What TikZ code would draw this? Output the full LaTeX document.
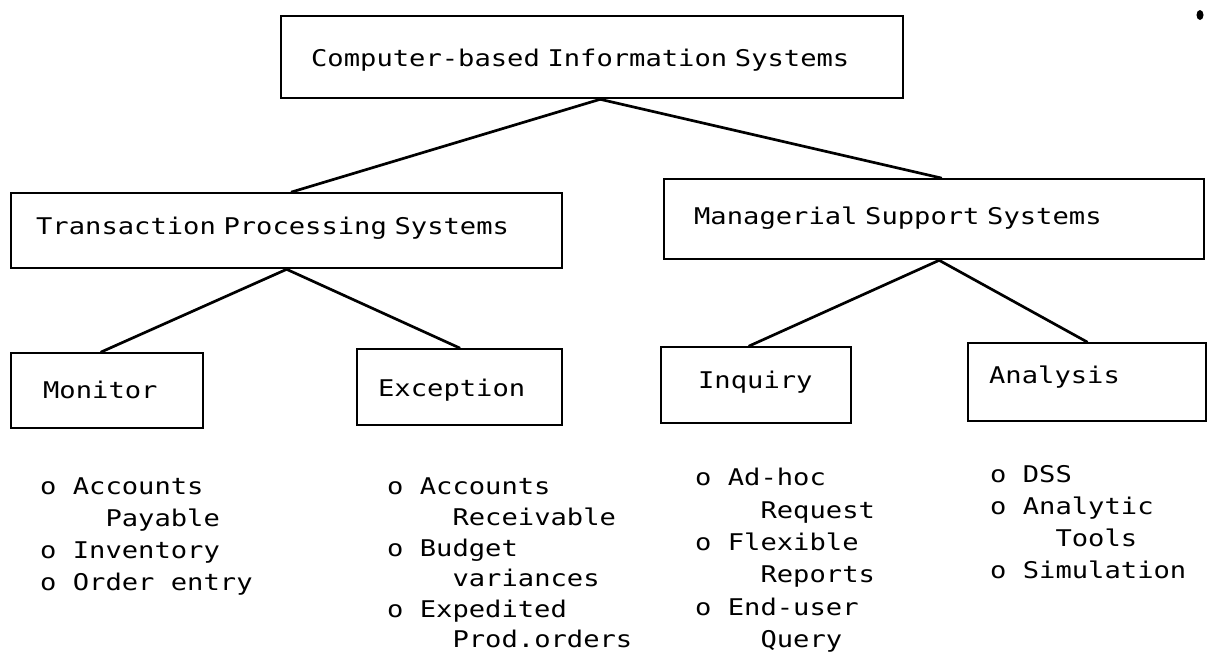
\documentclass[tikz,border=0pt]{standalone}
\usepackage{fontspec}
\newfontfamily\typewriter[FakeStretch=1.18]{DejaVu Sans Mono}
% typewriter face at 23pt with the given line pitch; a space is one full character cell
\newcommand\twfont[1]{\typewriter\fontsize{23}{#1}\selectfont
  \fontdimen2\font=\fontcharwd\font`x\relax
  \fontdimen3\font=0pt\relax\fontdimen4\font=0pt\relax}
% indentation of a continued list entry: four character cells
\newcommand\ind{\phantom{xxxx}}
\tikzset{
  sysbox/.style={draw, line width=2.3pt, anchor=north west, inner ysep=0pt,
    align=left, font=\twfont{32}},
  itemlist/.style={inner sep=0pt, anchor=north west, align=left},
  link/.style={line width=2.7pt, line cap=round},
}
\begin{document}
\begin{tikzpicture}[x=1pt,y=-1pt]
\useasboundingbox (0,0) rectangle (1208,656);

% level 0
\node[sysbox, inner xsep=30pt, text width=562pt, text height=50pt, text depth=32pt]
  (cbis) at (280,15) {Computer-based Information Systems};

% level 1
\node[sysbox, inner xsep=25pt, text width=501pt, text height=41pt, text depth=34pt]
  (tps) at (10,192) {Transaction Processing Systems};
\node[sysbox, inner xsep=30pt, text width=480pt, text height=45pt, text depth=35pt]
  (mss) at (663,178) {Managerial Support Systems};

% level 2
\node[sysbox, inner xsep=32pt, text width=128pt, text height=45pt, text depth=30pt]
  (monitor) at (10,352) {Monitor};
\node[sysbox, inner xsep=21pt, text width=163pt, text height=47pt, text depth=29pt]
  (exception) at (356,348) {Exception};
\node[sysbox, inner xsep=37pt, text width=116pt, text height=41pt, text depth=35pt]
  (inquiry) at (660,346) {Inquiry};
\node[sysbox, inner xsep=21pt, text width=196pt, text height=40pt, text depth=38pt]
  (analysis) at (967,342) {Analysis};

% example applications under each category
\node[itemlist, font=\twfont{32}] (monitorlist) at (40,478)
  {o Accounts\\ \ind Payable\\ o Inventory\\ o Order entry};
\node[itemlist, font=\twfont{30.6}] (exceptionlist) at (387,478)
  {o Accounts\\ \ind Receivable\\ o Budget\\ \ind variances\\ o Expedited\\ \ind Prod.orders};
\node[itemlist, font=\twfont{32.4}] (inquirylist) at (695,468)
  {o Ad-hoc\\ \ind Request\\ o Flexible\\ \ind Reports\\ o End-user\\ \ind Query};
\node[itemlist, font=\twfont{32}] (analysislist) at (990,465)
  {o DSS\\ o Analytic\\ \ind Tools\\ o Simulation};

% tree connectors
\draw[link] ([xshift=8pt]cbis.south) -- ([xshift=5pt]tps.north);
\draw[link] ([xshift=8pt]cbis.south) -- ([xshift=7pt]mss.north);
\draw[link] (tps.south) -- ([xshift=-6pt]monitor.north);
\draw[link] (tps.south) -- (exception.north);
\draw[link] ([xshift=5pt]mss.south) -- ([xshift=-7pt]inquiry.north);
\draw[link] ([xshift=5pt]mss.south) -- (analysis.north);

% ink blot in the top right corner
\fill (1200,15) ellipse (3.5pt and 5pt);
\end{tikzpicture}
\end{document}
